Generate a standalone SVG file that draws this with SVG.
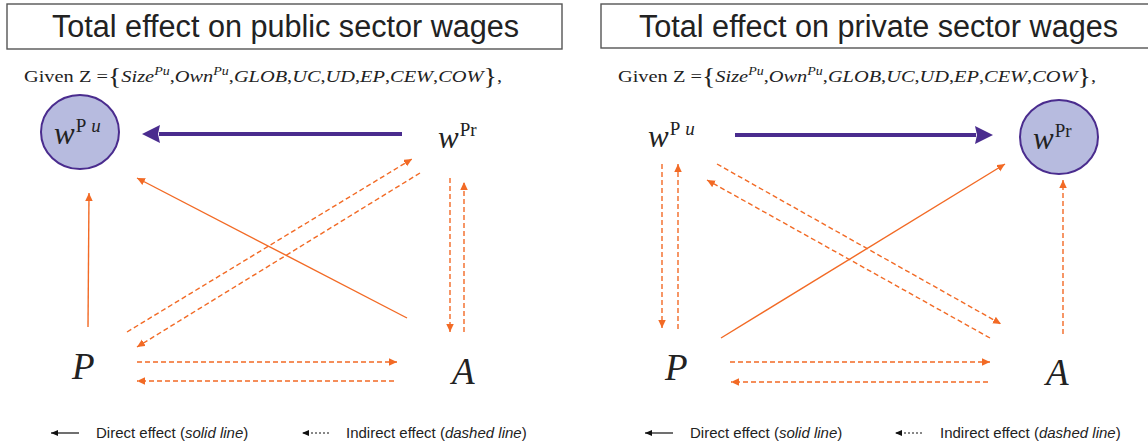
<svg xmlns="http://www.w3.org/2000/svg" width="1148" height="445" viewBox="0 0 1148 445">
<style>
.title{font-family:"Liberation Sans",Arial,sans-serif;font-size:30.6px;fill:#222}
.box{fill:#fff;stroke:#555;stroke-width:1.4}
.given{font-family:"Liberation Serif","Times New Roman",serif;font-size:17.5px;fill:#222}
.it{font-style:italic}
.w{font-family:"Liberation Serif","Times New Roman",serif;font-size:31px;font-style:italic;fill:#222}
.sup{font-size:19px}
.var{font-family:"Liberation Serif","Times New Roman",serif;font-size:37px;font-style:italic;fill:#222}
.node{fill:#b7bbdf;stroke:#4a2c8e;stroke-width:2}
.direct{stroke:#4a2c8e;stroke-width:4;fill:none}
.solid{stroke:#f26a25;stroke-width:1.4;fill:none}
.dashed{stroke:#f26a25;stroke-width:1.4;fill:none;stroke-dasharray:5 3}
.legend{font-family:"Liberation Sans",Arial,sans-serif;font-size:15px;fill:#222}
.lsolid{stroke:#111;stroke-width:1.2;fill:none}
.ldash{stroke:#111;stroke-width:1;fill:none;stroke-dasharray:2 2}
</style>
<defs>
<marker id="ah" markerUnits="userSpaceOnUse" markerWidth="9" markerHeight="8" refX="8" refY="3.75" orient="auto">
<path d="M0,0 L8,3.75 L0,7.5 z" fill="#f26a25"/>
</marker>
<marker id="ahp" markerUnits="userSpaceOnUse" markerWidth="19" markerHeight="19" refX="1" refY="9" orient="auto">
<path d="M0,0 L18,9 L0,18 L2,9 z" fill="#4a2c8e"/>
</marker>
<marker id="ahk" markerUnits="userSpaceOnUse" markerWidth="8" markerHeight="7" refX="7" refY="3" orient="auto">
<path d="M0,0 L7,3 L0,6 z" fill="#111"/>
</marker>
</defs>

<!-- Left panel -->
<g id="title-left">
<rect class="box" x="7" y="4" width="555" height="45"/>
<text class="title" x="52" y="37">Total effect on public sector wages</text>
</g>
<g id="given-left">
<text class="given" x="24" y="82" textLength="478" lengthAdjust="spacingAndGlyphs">Given Z =<tspan font-size="24" dy="2">{</tspan><tspan class="it" dy="-2">Size</tspan><tspan class="it" font-size="12" dy="-7">Pu</tspan><tspan dy="7">,</tspan><tspan class="it">Own</tspan><tspan class="it" font-size="12" dy="-7">Pu</tspan><tspan dy="7">,</tspan><tspan class="it">GLOB</tspan>,<tspan class="it">UC</tspan>,<tspan class="it">UD</tspan>,<tspan class="it">EP</tspan>,<tspan class="it">CEW</tspan>,<tspan class="it">COW</tspan><tspan font-size="24" dy="2">}</tspan><tspan dy="-2">,</tspan></text>
</g>
<g id="wpu-left">
<ellipse class="node" cx="80" cy="132" rx="39" ry="37"/>
<text class="w" x="54" y="144">w<tspan class="sup" font-style="normal" dy="-12" dx="1">P</tspan><tspan class="sup" dx="5">u</tspan></text>
</g>
<g id="wpr-left">
<text class="w" x="438" y="148">w<tspan class="sup" font-style="normal" dy="-12" dx="1">Pr</tspan></text>
</g>
<g id="p-left"><text class="var" x="72" y="379">P</text></g>
<g id="a-left"><text class="var" x="452" y="384">A</text></g>
<g id="connectors-left">
<path class="direct" d="M402,134 L159,134" marker-end="url(#ahp)"/>
<path class="solid" d="M88,327 L89,193" marker-end="url(#ah)"/>
<path class="solid" d="M407,318 L137,178" marker-end="url(#ah)"/>
<path class="dashed" d="M127,332 L412,159" marker-end="url(#ah)"/>
<path class="dashed" d="M420,173 L137,347" marker-end="url(#ah)"/>
<path class="dashed" d="M450,178 L450,332" marker-end="url(#ah)"/>
<path class="dashed" d="M464,332 L464,182" marker-end="url(#ah)"/>
<path class="dashed" d="M137,362 L397,362" marker-end="url(#ah)"/>
<path class="dashed" d="M394,381 L137,381" marker-end="url(#ah)"/>
</g>
<g id="legend-left">
<path class="lsolid" d="M79,433 L51,433" marker-end="url(#ahk)"/>
<text class="legend" x="96" y="438">Direct effect (<tspan font-style="italic">solid line</tspan>)</text>
<path class="ldash" d="M329,433 L302,433" marker-end="url(#ahk)"/>
<text class="legend" x="346" y="438">Indirect effect (<tspan font-style="italic">dashed line</tspan>)</text>
</g>

<!-- Right panel -->
<g id="title-right">
<rect class="box" x="601" y="4" width="560" height="44"/>
<text class="title" x="639" y="37">Total effect on private sector wages</text>
</g>
<g id="given-right">
<text class="given" x="618" y="82" textLength="478" lengthAdjust="spacingAndGlyphs">Given Z =<tspan font-size="24" dy="2">{</tspan><tspan class="it" dy="-2">Size</tspan><tspan class="it" font-size="12" dy="-7">Pu</tspan><tspan dy="7">,</tspan><tspan class="it">Own</tspan><tspan class="it" font-size="12" dy="-7">Pu</tspan><tspan dy="7">,</tspan><tspan class="it">GLOB</tspan>,<tspan class="it">UC</tspan>,<tspan class="it">UD</tspan>,<tspan class="it">EP</tspan>,<tspan class="it">CEW</tspan>,<tspan class="it">COW</tspan><tspan font-size="24" dy="2">}</tspan><tspan dy="-2">,</tspan></text>
</g>
<g id="wpu-right">
<text class="w" x="648" y="147">w<tspan class="sup" font-style="normal" dy="-12" dx="1">P</tspan><tspan class="sup" dx="5">u</tspan></text>
</g>
<g id="wpr-right">
<ellipse class="node" cx="1059" cy="137" rx="39" ry="37"/>
<text class="w" x="1033" y="149">w<tspan class="sup" font-style="normal" dy="-12" dx="1">Pr</tspan></text>
</g>
<g id="p-right"><text class="var" x="665" y="380">P</text></g>
<g id="a-right"><text class="var" x="1046" y="385">A</text></g>
<g id="connectors-right">
<path class="direct" d="M735,135 L976,135" marker-end="url(#ahp)"/>
<path class="dashed" d="M662,164 L662,328" marker-end="url(#ah)"/>
<path class="dashed" d="M678,329 L678,164" marker-end="url(#ah)"/>
<path class="dashed" d="M717,164 L1001,324" marker-end="url(#ah)"/>
<path class="dashed" d="M990,338 L707,180" marker-end="url(#ah)"/>
<path class="solid" d="M721,338 L1005,164" marker-end="url(#ah)"/>
<path class="dashed" d="M1063,334 L1063,180" marker-end="url(#ah)"/>
<path class="dashed" d="M730,362 L990,362" marker-end="url(#ah)"/>
<path class="dashed" d="M988,382 L731,382" marker-end="url(#ah)"/>
</g>
<g id="legend-right">
<path class="lsolid" d="M673,433 L645,433" marker-end="url(#ahk)"/>
<text class="legend" x="690" y="438">Direct effect (<tspan font-style="italic">solid line</tspan>)</text>
<path class="ldash" d="M922,433 L895,433" marker-end="url(#ahk)"/>
<text class="legend" x="940" y="438">Indirect effect (<tspan font-style="italic">dashed line</tspan>)</text>
</g>
</svg>
